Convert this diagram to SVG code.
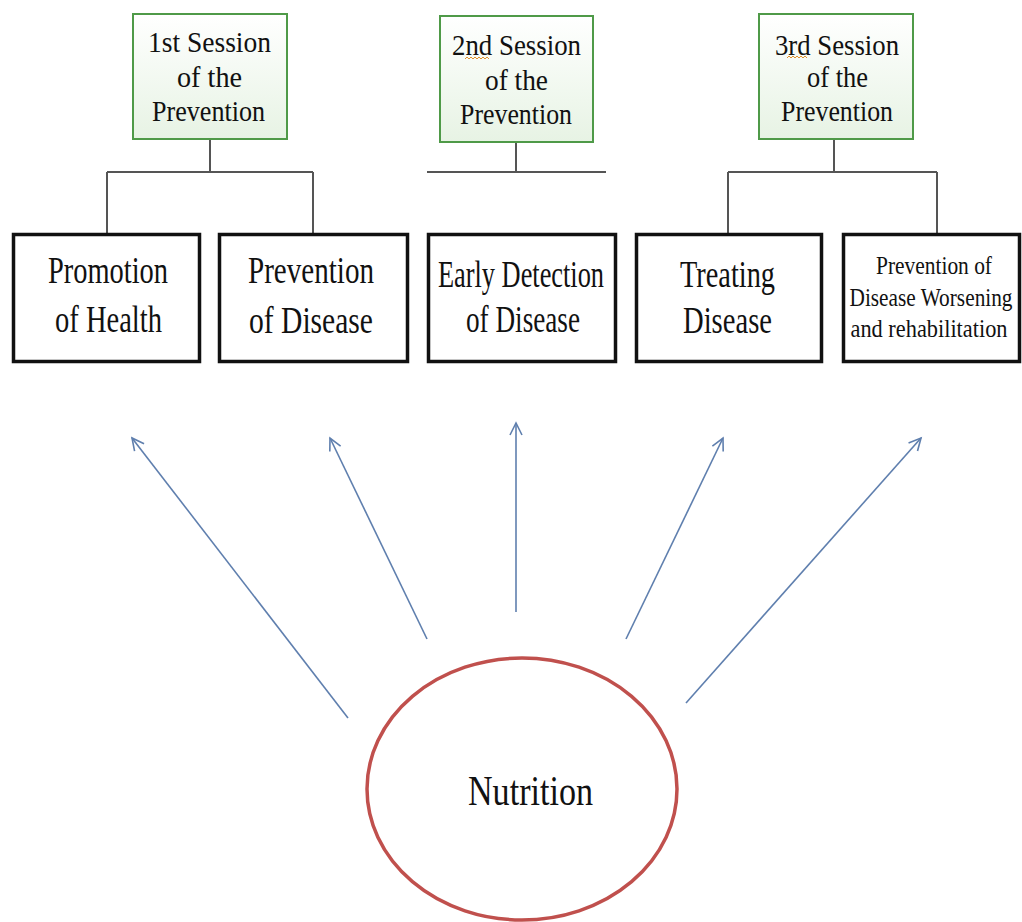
<svg xmlns="http://www.w3.org/2000/svg" width="1022" height="922" viewBox="0 0 1022 922">
<style>
  .sess rect { fill: url(#gGreen); stroke: #4f9a48; stroke-width: 2; }
  .box rect { fill: #ffffff; stroke: #111111; stroke-width: 3.5; }
  text { font-family: "Liberation Serif", "DejaVu Serif", serif; fill: #111111; text-anchor: middle; }
  .st { font-size: 30px; }
  .bt { font-size: 38px; }
  .bs { font-size: 26px; }
  .nut { font-size: 42px; }
  .tree path { fill: none; stroke: #555555; stroke-width: 2; }
  .arrows line { stroke: #5f7fae; stroke-width: 1.6; marker-end: url(#ah); }
  .sq { fill: none; stroke: #e0902a; stroke-width: 1; }
</style>
<defs>
  <linearGradient id="gGreen" x1="0" y1="0" x2="0" y2="1">
    <stop offset="0" stop-color="#ffffff"/>
    <stop offset="1" stop-color="#e7f3e4"/>
  </linearGradient>
  <marker id="ah" markerUnits="userSpaceOnUse" markerWidth="16" markerHeight="16" refX="13" refY="7" orient="auto" viewBox="0 0 16 14">
    <path d="M1,1 L13,7 L1,13" fill="none" stroke="#5f7fae" stroke-width="1.6"/>
  </marker>
</defs>
<rect width="1022" height="922" fill="#ffffff"/>

<g id="connectors">
  <g class="tree">
    <path d="M210,139 V172 M107,172 H313 M107,172 V233 M313,172 V233"/>
    <path d="M516,142 V172 M427,172 H606"/>
    <path d="M834,139 V172 M728,172 H937 M728,172 V233 M937,172 V233"/>
  </g>
  <g class="arrows">
    <line x1="348" y1="718" x2="132" y2="438"/>
    <line x1="427" y1="639" x2="330" y2="438"/>
    <line x1="516" y1="612" x2="516" y2="423"/>
    <line x1="626" y1="639" x2="723" y2="438"/>
    <line x1="686" y1="703" x2="921" y2="438"/>
  </g>
</g>

<g id="session1" class="sess">
  <rect x="133" y="14" width="154" height="125"/>
  <text class="st" x="209.5" y="52" textLength="123" lengthAdjust="spacingAndGlyphs">1st Session</text>
  <text class="st" x="209.5" y="87" textLength="65" lengthAdjust="spacingAndGlyphs">of the</text>
  <text class="st" x="208.5" y="121" textLength="113" lengthAdjust="spacingAndGlyphs">Prevention</text>
</g>
<g id="session2" class="sess">
  <rect x="440" y="16" width="153" height="126"/>
  <text class="st" x="516.5" y="55" textLength="129" lengthAdjust="spacingAndGlyphs">2nd Session</text>
  <path class="sq" d="M465,59 l2,-2 l2,2 l2,-2 l2,2 l2,-2 l2,2 l2,-2 l2,2 l2,-2 l2,2 l2,-2 l2,2"/>
  <text class="st" x="516.5" y="90" textLength="63" lengthAdjust="spacingAndGlyphs">of the</text>
  <text class="st" x="516" y="124" textLength="112" lengthAdjust="spacingAndGlyphs">Prevention</text>
</g>
<g id="session3" class="sess">
  <rect x="759" y="14" width="154" height="125"/>
  <text class="st" x="837" y="55" textLength="124" lengthAdjust="spacingAndGlyphs">3rd Session</text>
  <path class="sq" d="M787,58 l2,-2 l2,2 l2,-2 l2,2 l2,-2 l2,2 l2,-2 l2,2 l2,-2 l2,2"/>
  <text class="st" x="837.5" y="87" textLength="61" lengthAdjust="spacingAndGlyphs">of the</text>
  <text class="st" x="837" y="121" textLength="112" lengthAdjust="spacingAndGlyphs">Prevention</text>
</g>

<g id="promotion" class="box">
  <rect x="13.5" y="234.5" width="186" height="127"/>
  <text class="bt" x="108" y="283" textLength="120" lengthAdjust="spacingAndGlyphs">Promotion</text>
  <text class="bt" x="108.5" y="332" textLength="107" lengthAdjust="spacingAndGlyphs">of Health</text>
</g>
<g id="prevention" class="box">
  <rect x="219.5" y="234.5" width="188" height="127"/>
  <text class="bt" x="311" y="283" textLength="126" lengthAdjust="spacingAndGlyphs">Prevention</text>
  <text class="bt" x="311" y="333" textLength="124" lengthAdjust="spacingAndGlyphs">of Disease</text>
</g>
<g id="early" class="box">
  <rect x="428.5" y="234.5" width="187" height="127"/>
  <text class="bt" x="521" y="287" textLength="166" lengthAdjust="spacingAndGlyphs">Early Detection</text>
  <text class="bt" x="523" y="332" textLength="114" lengthAdjust="spacingAndGlyphs">of Disease</text>
</g>
<g id="treating" class="box">
  <rect x="636.5" y="234.5" width="185" height="127"/>
  <text class="bt" x="727.5" y="287" textLength="95" lengthAdjust="spacingAndGlyphs">Treating</text>
  <text class="bt" x="727.5" y="333" textLength="89" lengthAdjust="spacingAndGlyphs">Disease</text>
</g>
<g id="worsening" class="box">
  <rect x="843.5" y="234.5" width="176" height="127"/>
  <text class="bs" x="934" y="274" textLength="116" lengthAdjust="spacingAndGlyphs">Prevention of</text>
  <text class="bs" x="0" y="306" transform="translate(931,0) scale(0.82,1)">Disease Worsening</text>
  <text class="bs" x="0" y="337" transform="translate(929,0) scale(0.86,1)">and rehabilitation</text>
</g>

<g id="nutrition">
  <ellipse cx="522" cy="789" rx="155" ry="131" fill="#ffffff" stroke="#c0504d" stroke-width="3.5"/>
  <text class="nut" x="530.5" y="805" textLength="125" lengthAdjust="spacingAndGlyphs">Nutrition</text>
</g>
</svg>
